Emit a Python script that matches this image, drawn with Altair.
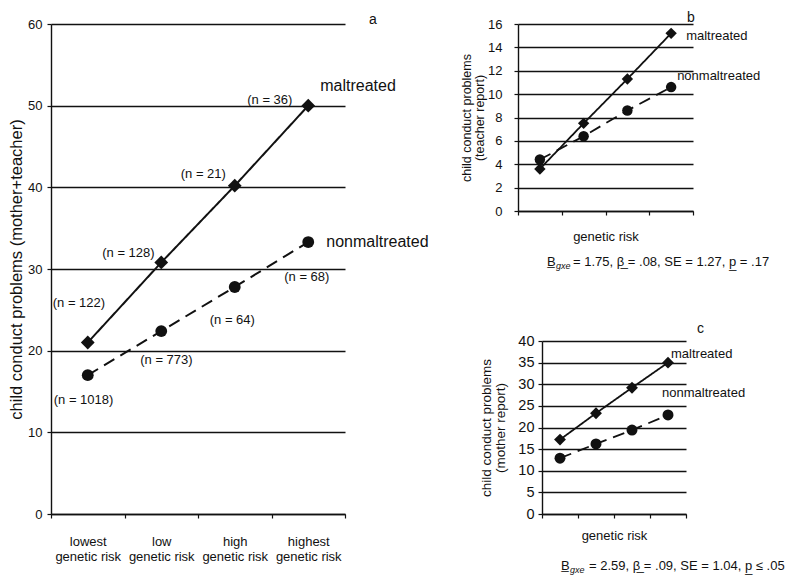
import altair as alt
import pandas as pd

FONT = "Liberation Sans"
INK = "#111111"

categories = ["lowest genetic risk", "low genetic risk", "high genetic risk", "highest genetic risk"]
series = ["maltreated", "nonmaltreated"]

# panel a: mother+teacher
a_maltreated = [21.0, 30.8, 40.2, 50.0]
a_nonmaltreated = [17.0, 22.4, 27.8, 33.3]
a_n_maltreated = ["(n = 122)", "(n = 128)", "(n = 21)", "(n = 36)"]
a_n_nonmaltreated = ["(n = 1018)", "(n = 773)", "(n = 64)", "(n = 68)"]
a_n_mal_y = [25.8, 31.9, 41.6, 50.7]
a_n_mal_dx = [-12, -36, -31, -38]
a_n_non_y = [13.9, 18.9, 23.7, 29.0]
a_n_non_dx = [-8, 5, 1, 2]

# panel b: teacher report
b_maltreated = [3.6, 7.5, 11.3, 15.2]
b_nonmaltreated = [4.4, 6.4, 8.6, 10.6]

# panel c: mother report
c_maltreated = [17.2, 23.3, 29.2, 35.0]
c_nonmaltreated = [12.9, 16.2, 19.4, 22.9]

b_stats = ["B\u0332", "gxe", "= 1.75, \u03b2\u0332 = .08, SE = 1.27, p\u0332 = .17"]
c_stats = ["B\u0332", "gxe", "= 2.59, \u03b2\u0332 = .09, SE = 1.04, p\u0332 \u2264 .05"]


def long_df(mal, non):
    return pd.DataFrame({
        "category": categories * 2,
        "value": mal + non,
        "series": [series[0]] * 4 + [series[1]] * 4,
    })


def text_layer(txt, x, y, size, align="left", baseline="middle", style="normal"):
    return alt.Chart(pd.DataFrame({"t": [txt]})).mark_text(
        font=FONT, fontSize=size, color=INK, align=align, baseline=baseline, fontStyle=style
    ).encode(x=alt.value(x), y=alt.value(y), text="t:N")


def panel(mal, non, ymax, ystep, ytitle, ytitle_size, ytitle_pad, ylab_size, ylab_pad,
          xaxis, sym_d, sym_c, lw):
    df = long_df(mal, non)
    x = alt.X("category:N", sort=categories,
              scale=alt.Scale(type="band", paddingInner=0, paddingOuter=0),
              axis=xaxis)
    y = alt.Y("value:Q", scale=alt.Scale(domain=[0, ymax], nice=False, zero=True),
              axis=alt.Axis(values=list(range(0, ymax + 1, ystep)), grid=True, gridColor=INK,
                            gridWidth=1.4, domain=True, domainColor=INK, domainWidth=1.4,
                            ticks=True, tickColor=INK, tickSize=4, tickWidth=1.2,
                            labelFont=FONT, labelFontSize=ylab_size, labelColor=INK,
                            labelPadding=ylab_pad, title=ytitle, titleFont=FONT,
                            titleFontSize=ytitle_size, titleFontWeight="normal",
                            titleColor=INK, titlePadding=ytitle_pad, titleLineHeight=ytitle_size + 1))
    base = alt.Chart(df).encode(x=x, y=y)
    line = base.mark_line(color=INK, strokeWidth=lw).encode(
        strokeDash=alt.StrokeDash("series:N", scale=alt.Scale(domain=series, range=[[1, 0], [12, 7]]),
                                  legend=None))
    pts_d = base.transform_filter(alt.datum.series == series[0]).mark_point(
        filled=True, color=INK, opacity=1, shape="diamond", size=sym_d)
    pts_c = base.transform_filter(alt.datum.series == series[1]).mark_point(
        filled=True, color=INK, opacity=1, shape="circle", size=sym_c)
    return x, y, [line, pts_d, pts_c]


def series_label(x, y, cat, val, txt, dx, size):
    return alt.Chart(pd.DataFrame({"category": [cat], "value": [val], "t": [txt]})).mark_text(
        font=FONT, fontSize=size, color=INK, align="left", baseline="middle", dx=dx
    ).encode(x=x, y=y, text="t:N")


# ---------- panel a ----------
xa_axis = alt.Axis(title=None, labelAngle=0, labelFont=FONT, labelFontSize=13, labelColor=INK,
                   labelExpr="[slice(datum.label, 0, indexof(datum.label, ' ')), slice(datum.label, indexof(datum.label, ' ') + 1)]",
                   labelLineHeight=15, labelPadding=17, tickBand="extent", tickSize=4, tickColor=INK,
                   tickWidth=1.2, domain=True, domainColor=INK, domainWidth=1.4, grid=False)
xa, ya, layers_a = panel(a_maltreated, a_nonmaltreated, 60, 10,
                         "child conduct problems (mother+teacher)", 16.5, 3, 13, 5,
                         xa_axis, 190, 140, 2.0)
for i, c in enumerate(categories):
    layers_a.append(series_label(xa, ya, c, a_n_mal_y[i], a_n_maltreated[i], a_n_mal_dx[i] - 23, 13))
    layers_a.append(series_label(xa, ya, c, a_n_non_y[i], a_n_nonmaltreated[i], a_n_non_dx[i] - 26, 13))
layers_a.append(series_label(xa, ya, categories[3], 52.4, series[0], 12, 16))
layers_a.append(series_label(xa, ya, categories[3], 33.3, series[1], 18, 16))
layers_a.append(text_layer("a", 318, -4, 14))
panel_a = alt.layer(*layers_a).properties(width=294, height=490)

# ---------- panel b ----------
xb_axis = alt.Axis(title="genetic risk", labels=False, tickBand="extent", tickSize=4, tickColor=INK,
                   tickWidth=1.2, domain=True, domainColor=INK, domainWidth=1.4, grid=False,
                   titleFont=FONT, titleFontSize=13, titleFontWeight="normal", titleColor=INK,
                   titlePadding=15)
xb, yb, layers_b = panel(b_maltreated, b_nonmaltreated, 16, 2,
                         ["child conduct problems", "(teacher report)"], 12.5, 1, 13, 12,
                         xb_axis, 130, 110, 1.8)
layers_b.append(series_label(xb, yb, categories[3], 15.0, series[0], 15, 13))
layers_b.append(series_label(xb, yb, categories[3], 11.56, series[1], 6, 13))
layers_b.append(text_layer("b", 169, -6, 14))
layers_b.append(text_layer(b_stats[0], 29, 238, 13))
layers_b.append(text_layer(b_stats[1], 38, 242, 9, style="italic"))
layers_b.append(text_layer(b_stats[2], 55, 238, 13))
panel_b = alt.layer(*layers_b).properties(width=175, height=187)

# ---------- panel c ----------
xc_axis = alt.Axis(title="genetic risk", labels=False, tickBand="extent", tickSize=4, tickColor=INK,
                   tickWidth=1.2, domain=True, domainColor=INK, domainWidth=1.4, grid=False,
                   titleFont=FONT, titleFontSize=13, titleFontWeight="normal", titleColor=INK,
                   titlePadding=11)
xc, yc, layers_c = panel(c_maltreated, c_nonmaltreated, 40, 5,
                         ["child conduct problems", "(mother report)"], 13.5, 10, 14.5, 4,
                         xc_axis, 140, 120, 1.8)
layers_c.append(series_label(xc, yc, categories[3], 37.1, series[0], 3, 13))
layers_c.append(series_label(xc, yc, categories[3], 27.9, series[1], -6, 13))
layers_c.append(text_layer("c", 155, -12, 14))
layers_c.append(text_layer(c_stats[0], 19, 225, 13))
layers_c.append(text_layer(c_stats[1], 28, 229, 9, style="italic"))
layers_c.append(text_layer(c_stats[2], 47, 225, 13))
panel_c = alt.layer(*layers_c).properties(width=144, height=173)

spacer = alt.Chart(pd.DataFrame({"t": [""]})).mark_text(opacity=0).encode(
    x=alt.value(0), y=alt.value(0), text="t:N").properties(width=24, height=173)

row_c = alt.hconcat(spacer, panel_c, spacing=0, bounds="flush")
right = alt.vconcat(panel_b, row_c, spacing=130, bounds="flush")
chart = alt.hconcat(panel_a, right, spacing=173, bounds="flush").properties(
    padding={"left": 0, "top": 3, "right": 0, "bottom": 0},
    background="white",
).configure_view(stroke=None)

chart.save("out.html", embed_options={"renderer": "svg", "actions": False})
